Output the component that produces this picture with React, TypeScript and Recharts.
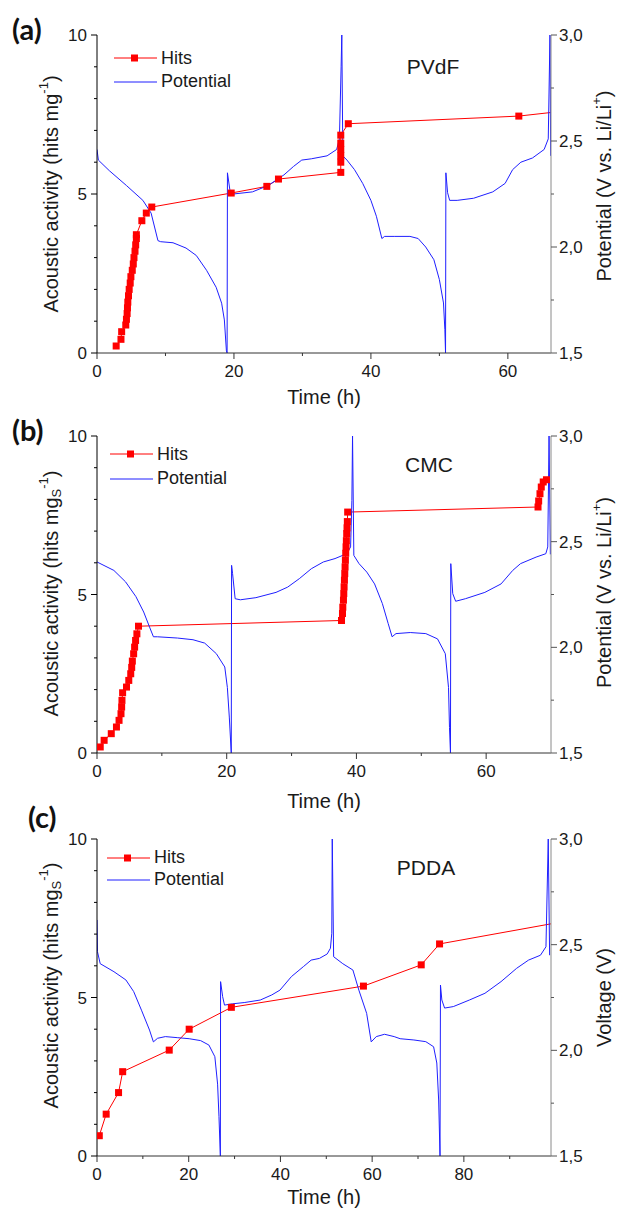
import React from "react";
import { ComposedChart, Line, XAxis, YAxis, Legend } from "recharts";

const FONT = '"Liberation Sans", Arial, Helvetica, sans-serif';
const INK = "#1a1a1a";

type Pair = [number, number];

// (a) PVdF — time (h), hits per mg
const hitsA: Pair[] = [
  [2.8, 0.22], [3.5, 0.43], [3.6, 0.67], [4.2, 0.88], [4.3, 1.06], [4.4, 1.24], [4.45, 1.42],
  [4.5, 1.6], [4.6, 1.8], [4.7, 2.0], [4.85, 2.2], [4.95, 2.4], [5.15, 2.6], [5.3, 2.8],
  [5.4, 3.0], [5.55, 3.2], [5.65, 3.4], [5.75, 3.6], [5.75, 3.72], [6.55, 4.16], [7.2, 4.4],
  [8.0, 4.59], [19.6, 5.03], [24.8, 5.24], [26.5, 5.47], [35.6, 5.68], [35.6, 6.0], [35.6, 6.2],
  [35.6, 6.4], [35.6, 6.6], [35.6, 6.85], [36.7, 7.21], [61.6, 7.45], [67, 7.58],
];
const potentialA: Pair[] = [
  [0, 2.46], [0.2, 2.41], [1.8, 2.36], [4.3, 2.29], [6.7, 2.22], [7.9, 2.16], [8.9, 2.03],
  [9.3, 2.025], [11.1, 2.02], [13.0, 1.995], [14.5, 1.96], [16.0, 1.89], [17.4, 1.81],
  [18.2, 1.735], [18.6, 1.656], [18.9, 1.51], [19.0, 1.5], [19.05, 2.35], [19.4, 2.27],
  [19.9, 2.25], [22.7, 2.26], [25.0, 2.29], [27.3, 2.34], [28.7, 2.38], [29.9, 2.41],
  [31.3, 2.416], [33.6, 2.43], [35.0, 2.46], [35.4, 2.51], [35.65, 2.85], [35.75, 3.0],
  [35.9, 2.43], [36.5, 2.41], [37.6, 2.365], [38.8, 2.3], [40.0, 2.22], [40.8, 2.145],
  [41.6, 2.04], [42.0, 2.05], [43.4, 2.05], [45.7, 2.05], [46.9, 2.04], [48.0, 2.0],
  [49.2, 1.94], [50.0, 1.846], [50.6, 1.736], [50.8, 1.61], [50.9, 1.5], [50.95, 2.35],
  [51.2, 2.256], [51.5, 2.22], [52.6, 2.22], [55.0, 2.23], [57.8, 2.26], [59.6, 2.3],
  [60.7, 2.365], [61.9, 2.4], [63.6, 2.42], [65.3, 2.46], [65.9, 2.51], [66.15, 3.0], [66.25, 2.43],
];

// (b) CMC
const hitsB: Pair[] = [
  [0.5, 0.19], [1.1, 0.4], [2.2, 0.61], [3.0, 0.82], [3.4, 1.03], [3.7, 1.24], [3.8, 1.45],
  [3.85, 1.66], [3.95, 1.9], [4.55, 2.08], [4.9, 2.29], [5.2, 2.5], [5.35, 2.7], [5.45, 2.9],
  [5.65, 3.13], [5.8, 3.34], [5.95, 3.55], [6.15, 3.76], [6.4, 4.0], [37.7, 4.18], [37.85, 4.4],
  [37.9, 4.6], [38.0, 4.82], [38.05, 5.03], [38.1, 5.24], [38.15, 5.45], [38.2, 5.66],
  [38.25, 5.87], [38.3, 6.08], [38.35, 6.3], [38.4, 6.5], [38.45, 6.7], [38.5, 6.92],
  [38.55, 7.1], [38.6, 7.3], [38.65, 7.6], [68.0, 7.76], [68.1, 7.95], [68.3, 8.18],
  [68.5, 8.39], [68.8, 8.55], [69.3, 8.62],
];
const potentialB: Pair[] = [
  [0, 2.404], [2.6, 2.364], [4.4, 2.31], [6.0, 2.24], [7.2, 2.167], [8.1, 2.096], [8.7, 2.05],
  [9.3, 2.05], [12.4, 2.044], [14.8, 2.036], [16.6, 2.02], [18.4, 1.97], [19.7, 1.907],
  [20.1, 1.81], [20.4, 1.67], [20.7, 1.5], [20.75, 2.388], [20.9, 2.35], [21.3, 2.23],
  [22.1, 2.225], [24.5, 2.235], [27.6, 2.26], [29.4, 2.285], [31.2, 2.325], [33.05, 2.372],
  [34.9, 2.404], [36.7, 2.42], [38.5, 2.443], [39.1, 2.475], [39.3, 2.695], [39.4, 3.0],
  [39.6, 2.435], [40.4, 2.396], [41.6, 2.356], [42.8, 2.3], [44.0, 2.207], [44.9, 2.112],
  [45.5, 2.05], [46.1, 2.065], [48.3, 2.07], [50.7, 2.065], [52.5, 2.04], [53.7, 1.97],
  [54.2, 1.81], [54.35, 1.62], [54.5, 1.5], [54.55, 2.396], [54.85, 2.254], [55.3, 2.218],
  [56.8, 2.23], [59.8, 2.26], [62.3, 2.3], [64.1, 2.364], [65.3, 2.396], [67.7, 2.427],
  [69.2, 2.443], [69.5, 2.475], [69.7, 3.0], [69.9, 2.44],
];

// (c) PDDA
const hitsC: Pair[] = [
  [0.5, 0.64], [2.0, 1.32], [4.7, 2.0], [5.6, 2.66], [15.75, 3.34], [20.1, 4.0], [29.3, 4.69],
  [58.1, 5.36], [70.7, 6.03], [74.7, 6.69], [100, 7.35],
];
const potentialC: Pair[] = [
  [0, 2.617], [0.1, 2.467], [0.7, 2.41], [3.7, 2.372], [6.3, 2.333], [8.0, 2.278], [9.7, 2.19],
  [11.45, 2.096], [12.3, 2.04], [13.2, 2.057], [14.9, 2.065], [17.5, 2.06], [20.1, 2.055],
  [22.6, 2.046], [24.4, 2.025], [25.7, 1.97], [26.3, 1.84], [26.6, 1.686], [26.9, 1.5],
  [26.95, 2.325], [27.4, 2.254], [27.8, 2.214], [29.5, 2.22], [32.1, 2.226], [35.6, 2.238],
  [38.1, 2.262], [39.9, 2.285], [42.4, 2.349], [45.0, 2.396], [46.7, 2.427], [48.5, 2.435],
  [50.2, 2.456], [50.9, 2.483], [51.2, 2.554], [51.3, 3.0], [51.6, 2.443], [53.6, 2.41],
  [55.8, 2.38], [57.1, 2.285], [58.8, 2.175], [59.8, 2.04], [60.9, 2.065], [62.7, 2.076],
  [64.8, 2.065], [66.1, 2.055], [69.1, 2.049], [71.7, 2.041], [73.4, 2.017], [74.1, 1.94],
  [74.5, 1.765], [74.8, 1.5], [74.9, 2.309], [75.2, 2.238], [75.8, 2.2], [77.7, 2.207],
  [81.2, 2.238], [84.6, 2.27], [88.1, 2.325], [91.5, 2.388], [94.1, 2.427], [96.7, 2.45],
  [97.9, 2.49], [98.4, 3.0], [98.7, 2.45],
];

// axis ticks
const hitTicks = [0, 1, 2, 3, 4, 5, 6, 7, 8, 9, 10];
const hitMajors = [0, 5, 10];
const potTicks = [1.5, 1.75, 2, 2.25, 2.5, 2.75, 3];
const potMajors = [1.5, 2, 2.5, 3];
const timeTicksAB = [0, 10, 20, 30, 40, 50, 60];
const timeMajorsAB = [0, 20, 40, 60];
const timeTicksC = [0, 10, 20, 30, 40, 50, 60, 70, 80, 90];
const timeMajorsC = [0, 20, 40, 60, 80];

const rows = (pairs: Pair[]) => pairs.map(([t, y]) => ({ t, y }));
const isMajor = (majors: number[], v: number) => majors.some((m) => Math.abs(m - v) < 1e-6);
const comma = (v: number) => v.toFixed(1).replace(".", ",");

function makeTick(side: "left" | "right" | "bottom", majors: number[], color: string, fmt: (v: number) => string) {
  return (props: any) => {
    const { x, y, payload } = props;
    const v = payload.value;
    const major = isMajor(majors, v);
    const len = major ? 6 : 3;
    const txt = { fontFamily: FONT, fontSize: 17, fill: INK } as const;
    if (side === "bottom") {
      return (
        <g key={`b-${v}`}>
          <line x1={x} x2={x} y1={y} y2={y + len} stroke={color} />
          {major && <text x={x} y={y + 18} dy="0.36em" textAnchor="middle" {...txt}>{fmt(v)}</text>}
        </g>
      );
    }
    if (side === "left") {
      return (
        <g key={`l-${v}`}>
          <line x1={x} x2={x - len} y1={y} y2={y} stroke={color} />
          {major && <text x={x - 10} y={y} dy="0.36em" textAnchor="end" {...txt}>{fmt(v)}</text>}
        </g>
      );
    }
    return (
      <g key={`r-${v}`}>
        <line x1={x} x2={x + len} y1={y} y2={y} stroke={color} />
        {major && <text x={x + 8} y={y} dy="0.36em" textAnchor="start" {...txt}>{fmt(v)}</text>}
      </g>
    );
  };
}

const squareDot = (props: any) => {
  const { cx, cy, index } = props;
  if (cx == null || cy == null) return <g key={`d-${index}`} />;
  return <rect key={`d-${index}`} x={cx - 3.5} y={cy - 3.5} width={7} height={7} fill="#ff0000" />;
};

type PanelProps = {
  top: number;
  height: number;
  plotTop: number;
  plotH: number;
  tMax: number;
  timeTicks: number[];
  timeMajors: number[];
  hits: Pair[];
  potential: Pair[];
  letter: string;
  letterPos: [number, number];
  sample: string;
  samplePos: [number, number];
  legendPos: [number, number, number];
  subS: boolean;
  rightTitle: "potential" | "voltage";
  rightShift: number;
  leftShift: number;
  timeGap: number;
};

function Panel(p: PanelProps) {
  const W = 618;
  const LEFT = 97;
  const RIGHT = 67;
  const xH = p.height - p.plotTop - p.plotH;
  const title = { fontFamily: FONT, fontSize: 20, fill: INK } as const;

  const leftTitle = (props: any) => {
    const vb = props.viewBox;
    const cx = vb.x + 51;
    const cy = vb.y + vb.height / 2 + p.leftShift;
    return (
      <text transform={`translate(${cx},${cy}) rotate(-90)`} textAnchor="middle" dominantBaseline="central" {...title}>
        Acoustic activity (hits mg
        {p.subS ? (
          <>
            <tspan dy={5} fontSize={13}>S</tspan>
            <tspan dy={-13} fontSize={13}>-1</tspan>
          </>
        ) : (
          <tspan dy={-8} fontSize={13}>-1</tspan>
        )}
        <tspan dy={8}>)</tspan>
      </text>
    );
  };

  const rightTitle = (props: any) => {
    const vb = props.viewBox;
    const cx = vb.x + 53;
    const cy = vb.y + vb.height / 2 + p.rightShift;
    return (
      <text transform={`translate(${cx},${cy}) rotate(-90)`} textAnchor="middle" dominantBaseline="central" {...title}>
        {p.rightTitle === "voltage" ? (
          "Voltage (V)"
        ) : (
          <>
            Potential (V vs. Li/Li
            <tspan dy={-8} fontSize={13}>+</tspan>
            <tspan dy={8}>)</tspan>
          </>
        )}
      </text>
    );
  };

  const timeTitle = (props: any) => {
    const vb = props.viewBox;
    return (
      <text x={vb.x + vb.width / 2} y={vb.y + p.timeGap} dy="0.36em" textAnchor="middle" {...title}>
        Time (h)
      </text>
    );
  };

  const [lx, ly, lgap] = p.legendPos;
  const legendContent = () => (
    <div style={{ fontFamily: FONT, fontSize: 18, color: INK }}>
      <div style={{ display: "flex", alignItems: "center", height: lgap }}>
        <svg width={43} height={12} style={{ display: "block" }}>
          <line x1={0} x2={43} y1={6} y2={6} stroke="#ff0000" />
          <rect x={17} y={2.5} width={7} height={7} fill="#ff0000" />
        </svg>
        <span style={{ marginLeft: 4 }}>Hits</span>
      </div>
      <div style={{ display: "flex", alignItems: "center", height: lgap }}>
        <svg width={43} height={12} style={{ display: "block" }}>
          <line x1={0} x2={43} y1={6} y2={6} stroke="#1f1fff" />
        </svg>
        <span style={{ marginLeft: 4 }}>Potential</span>
      </div>
    </div>
  );

  return (
    <div style={{ position: "absolute", left: 0, top: p.top, width: W, height: p.height }}>
      <ComposedChart width={W} height={p.height} margin={{ top: p.plotTop, right: 0, bottom: 0, left: 0 }}>
        <XAxis
          xAxisId="t"
          dataKey="t"
          type="number"
          domain={[0, p.tMax]}
          allowDataOverflow
          ticks={p.timeTicks}
          interval={0}
          tickSize={0}
          tickMargin={0}
          height={xH}
          axisLine={{ stroke: "#333333" }}
          tickLine={false}
          tick={makeTick("bottom", p.timeMajors, "#333333", (v) => String(v))}
          label={{ content: timeTitle }}
        />
        <XAxis
          xAxisId="frame"
          orientation="top"
          dataKey="t"
          type="number"
          domain={[0, p.tMax]}
          allowDataOverflow
          height={0}
          tick={false}
          tickLine={false}
          axisLine={{ stroke: "#8a8a8a" }}
        />
        <YAxis
          yAxisId="hits"
          dataKey="y"
          type="number"
          domain={[0, 10]}
          allowDataOverflow
          ticks={hitTicks}
          interval={0}
          tickSize={0}
          tickMargin={0}
          width={LEFT}
          axisLine={{ stroke: "#000000" }}
          tickLine={false}
          tick={makeTick("left", hitMajors, "#000000", (v) => String(v))}
          label={{ content: leftTitle }}
        />
        <YAxis
          yAxisId="pot"
          orientation="right"
          dataKey="y"
          type="number"
          domain={[1.5, 3]}
          allowDataOverflow
          ticks={potTicks}
          interval={0}
          tickSize={0}
          tickMargin={0}
          width={RIGHT}
          axisLine={{ stroke: "#8a8a8a" }}
          tickLine={false}
          tick={makeTick("right", potMajors, "#555555", comma)}
          label={{ content: rightTitle }}
        />
        <Line
          xAxisId="t"
          yAxisId="hits"
          data={rows(p.hits)}
          dataKey="y"
          name="Hits"
          stroke="#ff0000"
          strokeWidth={1}
          dot={squareDot}
          activeDot={false}
          isAnimationActive={false}
        />
        <Line
          xAxisId="t"
          yAxisId="pot"
          data={rows(p.potential)}
          dataKey="y"
          name="Potential"
          stroke="#1f1fff"
          strokeWidth={1}
          dot={false}
          activeDot={false}
          isAnimationActive={false}
        />
        <Legend
          layout="vertical"
          align="center"
          verticalAlign="middle"
          content={legendContent}
          wrapperStyle={{ left: lx, top: ly - lgap / 2, width: "auto", height: "auto" }}
        />
      </ComposedChart>
      <div
        style={{
          position: "absolute",
          left: p.letterPos[0],
          top: p.letterPos[1],
          fontFamily: "Lato, 'Open Sans', sans-serif",
          fontWeight: 700,
          fontSize: 29,
          lineHeight: "29px",
          color: "#111",
        }}
      >
        {p.letter}
      </div>
      <div
        style={{
          position: "absolute",
          left: p.samplePos[0] - 60,
          width: 120,
          textAlign: "center",
          top: p.samplePos[1] - 12,
          fontFamily: FONT,
          fontSize: 21,
          lineHeight: "24px",
          color: INK,
        }}
      >
        {p.sample}
      </div>
    </div>
  );
}

export default function App() {
  return (
    <div style={{ position: "absolute", left: 0, top: 0, width: 618, height: 1209, background: "#fff" }}>
      <Panel
        top={0}
        height={412}
        plotTop={35}
        plotH={318}
        tMax={66.3}
        timeTicks={timeTicksAB}
        timeMajors={timeMajorsAB}
        hits={hitsA}
        potential={potentialA}
        letter="(a)"
        letterPos={[12, 14]}
        sample="PVdF"
        samplePos={[433, 67]}
        legendPos={[114, 58, 23.5]}
        subS={false}
        rightTitle="potential"
        rightShift={-8}
        leftShift={0}
        timeGap={44}
      />
      <Panel
        top={400}
        height={415}
        plotTop={36}
        plotH={317}
        tMax={70}
        timeTicks={timeTicksAB}
        timeMajors={timeMajorsAB}
        hits={hitsB}
        potential={potentialB}
        letter="(b)"
        letterPos={[12, 15]}
        sample="CMC"
        samplePos={[429, 65]}
        legendPos={[110, 54, 24.5]}
        subS={true}
        rightTitle="potential"
        rightShift={-2}
        leftShift={-1}
        timeGap={48}
      />
      <Panel
        top={800}
        height={409}
        plotTop={39}
        plotH={317}
        tMax={99}
        timeTicks={timeTicksC}
        timeMajors={timeMajorsC}
        hits={hitsC}
        potential={potentialC}
        letter="(c)"
        letterPos={[28, 2]}
        sample="PDDA"
        samplePos={[426, 68]}
        legendPos={[107, 58, 21.6]}
        subS={true}
        rightTitle="voltage"
        rightShift={0}
        leftShift={-12}
        timeGap={41}
      />
    </div>
  );
}
